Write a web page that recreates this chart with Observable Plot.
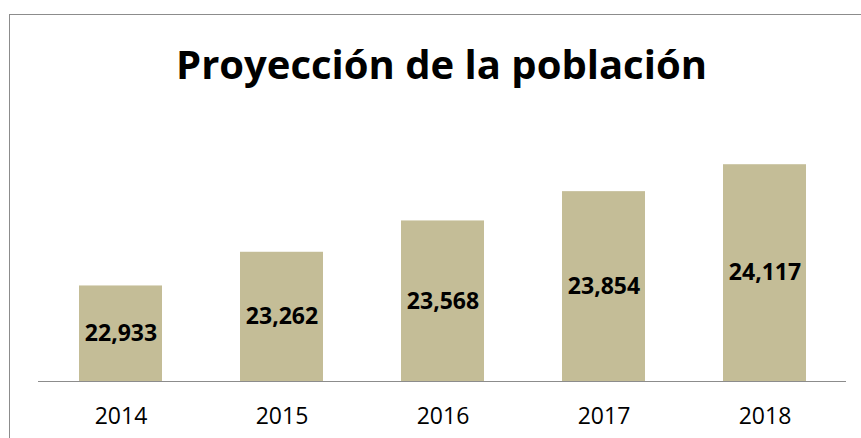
<!DOCTYPE html>
<html>
<head>
<meta charset="utf-8">
<script src="https://cdn.jsdelivr.net/npm/d3@7"></script>
<script src="https://cdn.jsdelivr.net/npm/@observablehq/plot@0.6"></script>
<style>
  html, body { margin: 0; padding: 0; background: #fff; overflow: hidden; }
  #frame {
    position: absolute; left: 9px; top: 14px;
    width: 863px; height: 460px;
    border: 1px solid #8c8c8c;
    background: #fff;
  }
  #title {
    height: 95px; box-sizing: border-box;
    padding-top: 29px;
    font-family: "Open Sans", sans-serif; font-weight: 700;
    font-size: 40px; line-height: 1;
    text-align: center; color: #000;
  }
  #chart svg { display: block; }
</style>
</head>
<body>
<div id="frame">
  <div id="title">Proyección de la población</div>
  <div id="chart"></div>
</div>
<script>
const years = ["2014", "2015", "2016", "2017", "2018"];
const population = [22933, 23262, 23568, 23854, 24117];
const labels = ["22,933", "23,262", "23,568", "23,854", "24,117"];
const yMin = 22000;
const yMax = 24500;

const data = years.map((y, i) => ({year: y, value: population[i], label: labels[i]}));

const chart = Plot.plot({
  width: 863,
  height: 328,
  marginLeft: 28,
  marginRight: 27,
  marginTop: 15,
  marginBottom: 57,
  style: {fontFamily: "'Open Sans', sans-serif", background: "transparent"},
  x: {domain: years, paddingInner: 0.487, paddingOuter: 0.2435, label: null},
  y: {domain: [yMin, yMax], axis: null},
  marks: [
    Plot.barY(data, {x: "year", y1: yMin, y2: "value", fill: "#c4bd97"}),
    Plot.ruleY([yMin], {stroke: "#8c8c8c", strokeWidth: 1}),
    Plot.text(data, {
      x: "year", y: d => (d.value + yMin) / 2, text: "label",
      fontSize: 23, fontWeight: 700, fill: "#000"
    }),
    Plot.axisX({tickSize: 0, tickPadding: 26, fontSize: 23, color: "#000", label: null})
  ]
});
document.getElementById("chart").appendChild(chart);
</script>
</body>
</html>
